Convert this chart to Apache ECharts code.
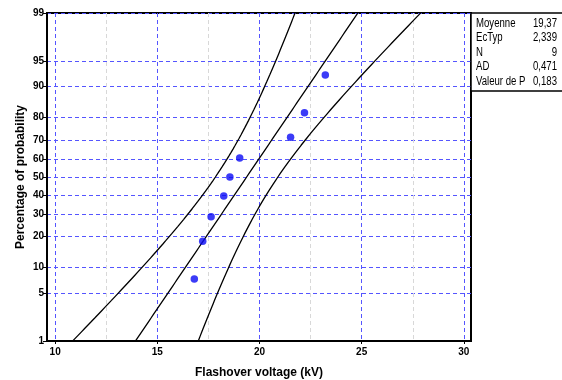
<!DOCTYPE html>
<html>
<head>
<meta charset="utf-8">
<script src="https://cdn.jsdelivr.net/npm/echarts@6/dist/echarts.min.js"></script>
<style>html,body{margin:0;padding:0;background:#fff;}#c{width:562px;height:380px;}</style>
</head>
<body>
<div id="c"></div>
<script>
// ---- data ----
var voltages = [16.81, 17.22, 17.63, 18.25, 18.55, 19.03, 21.52, 22.2, 23.22];
var percents = [7.4, 18.1, 28.7, 39.4, 50, 60.6, 71.3, 81.9, 92.6];
var yTickPercents = [1, 5, 10, 20, 30, 40, 50, 60, 70, 80, 90, 95, 99];
var xMajorTicks = [10, 15, 20, 25, 30];
var xMinorTicks = [12.5, 17.5, 22.5, 27.5];
var statNames = ['Moyenne', 'EcTyp', 'N', 'AD', 'Valeur de P'];
var statValues = ['19,37', '2,339', '9', '0,471', '0,183'];
var xTitle = 'Flashover voltage (kV)';
var yTitle = 'Percentage of probability';
var fitMean = 19.37, fitStd = 2.339, fitN = 9;

// inverse standard normal CDF (Acklam)
function probit(p) {
  var a=[-3.969683028665376e+01,2.209460984245205e+02,-2.759285104469687e+02,1.383577518672690e+02,-3.066479806614716e+01,2.506628277459239e+00];
  var b=[-5.447609879822406e+01,1.615858368580409e+02,-1.556989798598866e+02,6.680131188771972e+01,-1.328068155288572e+01];
  var c=[-7.784894002430293e-03,-3.223964580411365e-01,-2.400758277161838e+00,-2.549732539343734e+00,4.374664141464968e+00,2.938163982698783e+00];
  var d=[7.784695709041462e-03,3.224671290700398e-01,2.445134137142996e+00,3.754408661907416e+00];
  var pl=0.02425, q, r;
  if (p < pl) { q=Math.sqrt(-2*Math.log(p)); return (((((c[0]*q+c[1])*q+c[2])*q+c[3])*q+c[4])*q+c[5])/((((d[0]*q+d[1])*q+d[2])*q+d[3])*q+1); }
  if (p > 1-pl) { q=Math.sqrt(-2*Math.log(1-p)); return -(((((c[0]*q+c[1])*q+c[2])*q+c[3])*q+c[4])*q+c[5])/((((d[0]*q+d[1])*q+d[2])*q+d[3])*q+1); }
  q=p-0.5; r=q*q;
  return (((((a[0]*r+a[1])*r+a[2])*r+a[3])*r+a[4])*r+a[5])*q/(((((b[0]*r+b[1])*r+b[2])*r+b[3])*r+b[4])*r+1);
}

var yTickZ = yTickPercents.map(function(p){ return probit(p/100); });
var zMin = yTickZ[0], zMax = yTickZ[yTickZ.length-1];

var points = voltages.map(function(v,i){ return [v, probit(percents[i]/100)]; });

// fitted line and confidence band from the displayed statistics
var fitLine = [], lowBand = [], highBand = [];
for (var k = -60; k <= 60; k++) {
  var z = k * 0.05;
  var xc = fitMean + z * fitStd;
  var se = Math.sqrt(fitStd*fitStd/fitN + z*z*fitStd*fitStd/(2*(fitN-1)));
  fitLine.push([xc, z]);
  lowBand.push([xc - 1.96*se, z]);
  highBand.push([xc + 1.96*se, z]);
}

var chart = echarts.init(document.getElementById('c'), null, {renderer: 'canvas'});
var tickFont = {fontFamily: 'Liberation Sans, Arial, sans-serif', fontWeight: 'bold', fontSize: 10, color: '#000'};
var statFont = '12px "Liberation Sans", Arial, sans-serif';
var gridBlue = '#5555ff';

function lineSeries(data) {
  return {type: 'line', data: data, showSymbol: false, symbol: 'none', smooth: false, clip: true,
    lineStyle: {color: '#000', width: 1.3}, z: 3, silent: true};
}

chart.setOption({
  animation: false,
  backgroundColor: '#fff',
  grid: {left: 47, right: 91, top: 13, bottom: 39, show: true, borderColor: '#000', borderWidth: 2,
    backgroundColor: 'transparent', outerBoundsMode: 'none', containLabel: false},
  xAxis: [{
    type: 'value', min: 9.6, max: 30.35,
    name: xTitle, nameLocation: 'middle', nameGap: 26,
    nameTextStyle: {fontFamily: 'Liberation Sans, Arial, sans-serif', fontWeight: 'bold', fontSize: 12, color: '#000'},
    axisLine: {show: true, onZero: false, lineStyle: {color: '#000', width: 2}},
    axisTick: {show: true, length: 3, customValues: xMajorTicks, lineStyle: {color: '#000'}},
    axisLabel: Object.assign({customValues: xMajorTicks, margin: 6}, tickFont),
    splitLine: {show: true, lineStyle: {color: gridBlue, type: [4, 3], width: 1}}
  }, {
    type: 'value', min: 9.6, max: 30.35, position: 'bottom',
    axisLine: {show: false}, axisLabel: {show: false, customValues: xMinorTicks},
    axisTick: {show: true, length: 0, customValues: xMinorTicks, lineStyle: {opacity: 0}},
    splitLine: {show: true, lineStyle: {color: '#d8d8d8', type: [4, 3], width: 1}}
  }],
  yAxis: {
    type: 'value', min: zMin, max: zMax,
    axisLine: {show: true, onZero: false, lineStyle: {color: '#000', width: 2}},
    axisTick: {show: true, length: 4, customValues: yTickZ, lineStyle: {color: '#000'}},
    axisLabel: Object.assign({customValues: yTickZ, margin: 3, formatter: function(v){
      var best = 0, bd = 1e9;
      for (var i = 0; i < yTickZ.length; i++) { var d = Math.abs(yTickZ[i]-v); if (d < bd) { bd = d; best = i; } }
      return String(yTickPercents[best]);
    }}, tickFont),
    splitLine: {show: true, lineStyle: {color: gridBlue, type: [4, 3], width: 1}}
  },
  series: [
    lineSeries(lowBand), lineSeries(fitLine), lineSeries(highBand),
    {type: 'scatter', data: points, symbol: 'circle', symbolSize: 7.5, itemStyle: {color: '#0a0af5'}, z: 4}
  ],
  graphic: [
    {type: 'text', x: 21, y: 177, rotation: Math.PI/2, z: 11,
      style: {text: yTitle, fill: '#000', font: 'bold 12px "Liberation Sans", Arial, sans-serif', align: 'center', verticalAlign: 'middle'}},
    {type: 'rect', shape: {x: 471, y: 13, width: 95, height: 78}, style: {fill: '#fff', stroke: '#000', lineWidth: 1.5}, z: 10}
  ].concat(statNames.map(function(n, i){
    return {type: 'text', x: 476, y: 23.5 + i*14.5, scaleX: 0.8, z: 11,
      style: {text: n, fill: '#000', font: statFont, verticalAlign: 'middle'}};
  })).concat(statValues.map(function(v, i){
    return {type: 'text', x: 557, y: 23.5 + i*14.5, scaleX: 0.8, z: 11,
      style: {text: v, fill: '#000', font: statFont, align: 'right', verticalAlign: 'middle'}};
  }))
});
</script>
</body>
</html>
